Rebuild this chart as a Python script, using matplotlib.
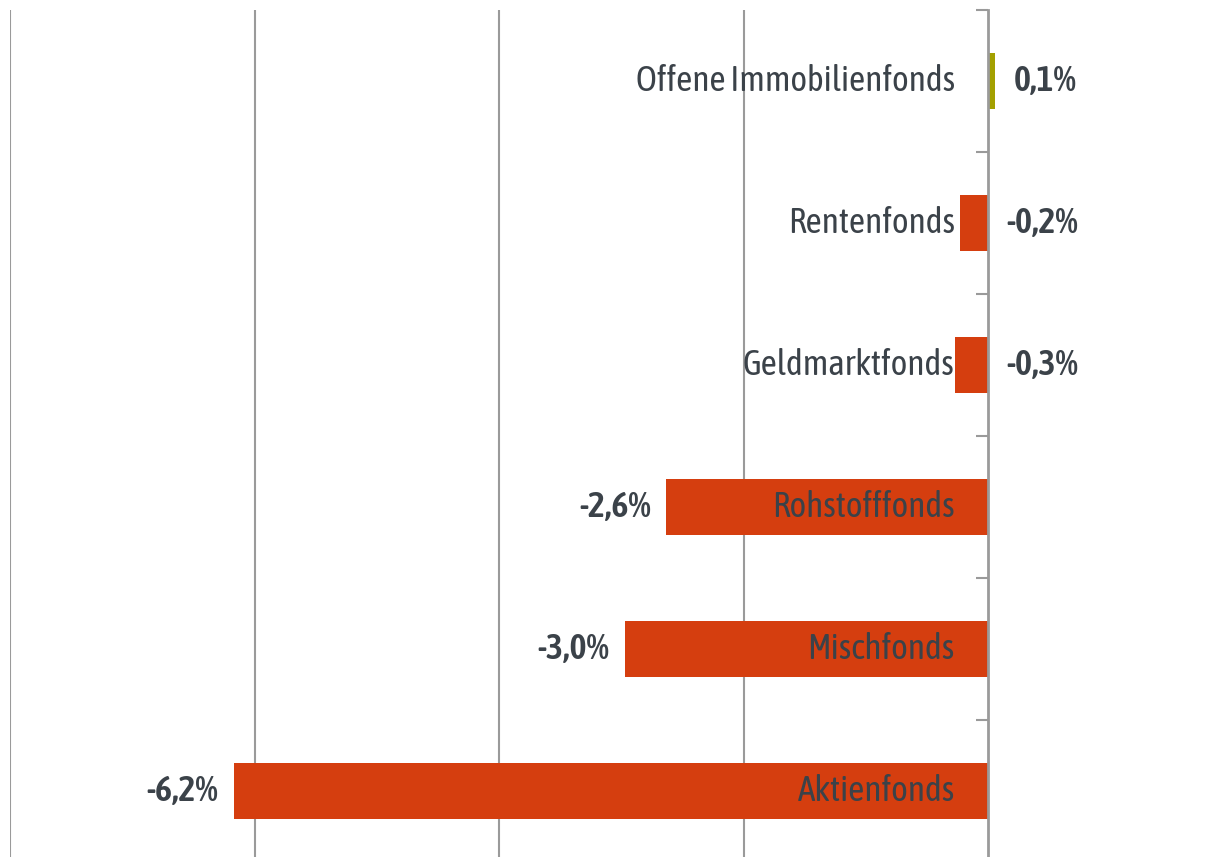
import matplotlib.pyplot as plt

categories = ["Offene Immobilienfonds", "Rentenfonds", "Geldmarktfonds",
              "Rohstofffonds", "Mischfonds", "Aktienfonds"]
values = [0.06, -0.23, -0.27, -2.63, -2.97, -6.17]
value_labels = ["0,1%", "-0,2%", "-0,3%", "-2,6%", "-3,0%", "-6,2%"]

plt.rcParams["font.family"] = ["Asap Condensed", "DejaVu Sans"]

red = "#D53E0F"
olive = "#A3A000"
txt = "#3B4249"
grey = "#9A9A9A"

W, H = 1213, 857
fig = plt.figure(figsize=(W / 100, H / 100), dpi=100)
ax = fig.add_axes([10 / W, -5 / H, (W - 10) / W, 852 / H])

x0 = -8.0
ppu = 122.25
ax.set_xlim(x0, x0 + (W - 10) / ppu)
ax.set_ylim(len(categories) - 0.5, -0.5)

y = list(range(len(categories)))
colors = [olive if v > 0 else red for v in values]
ax.barh(y, values, height=0.4, color=colors, zorder=3)

# gridlines
for g in [-8, -6, -4, -2]:
    ax.axvline(g, color=grey, lw=1.5, zorder=1)

for s in ["top", "right", "bottom"]:
    ax.spines[s].set_visible(False)
ax.spines["left"].set_position(("data", 0))
ax.spines["left"].set_color(grey)
ax.spines["left"].set_linewidth(2)
ax.spines["left"].set_zorder(4)
ax.set_xticks([])
ax.set_yticks([i - 0.5 for i in range(len(categories) + 1)])
ax.set_yticklabels([])
ax.tick_params(axis="y", length=9, width=1.5, color=grey, direction="out")

for i, (v, lab, name) in enumerate(zip(values, value_labels, categories)):
    ax.annotate(name, (0, i), xytext=(-24, 0), textcoords="offset points",
                ha="right", va="center", fontsize=25.5, color=txt,
                fontweight="normal", zorder=5)
    if v > -1:
        ax.annotate(lab, (max(v, 0), i), xytext=(13, 0), textcoords="offset points",
                    ha="left", va="center", fontsize=26, color=txt,
                    fontweight="semibold", zorder=5)
    else:
        ax.annotate(lab, (v, i), xytext=(-11, 0), textcoords="offset points",
                    ha="right", va="center", fontsize=26, color=txt,
                    fontweight="semibold", zorder=5)

fig.savefig("out.png", dpi=100)
